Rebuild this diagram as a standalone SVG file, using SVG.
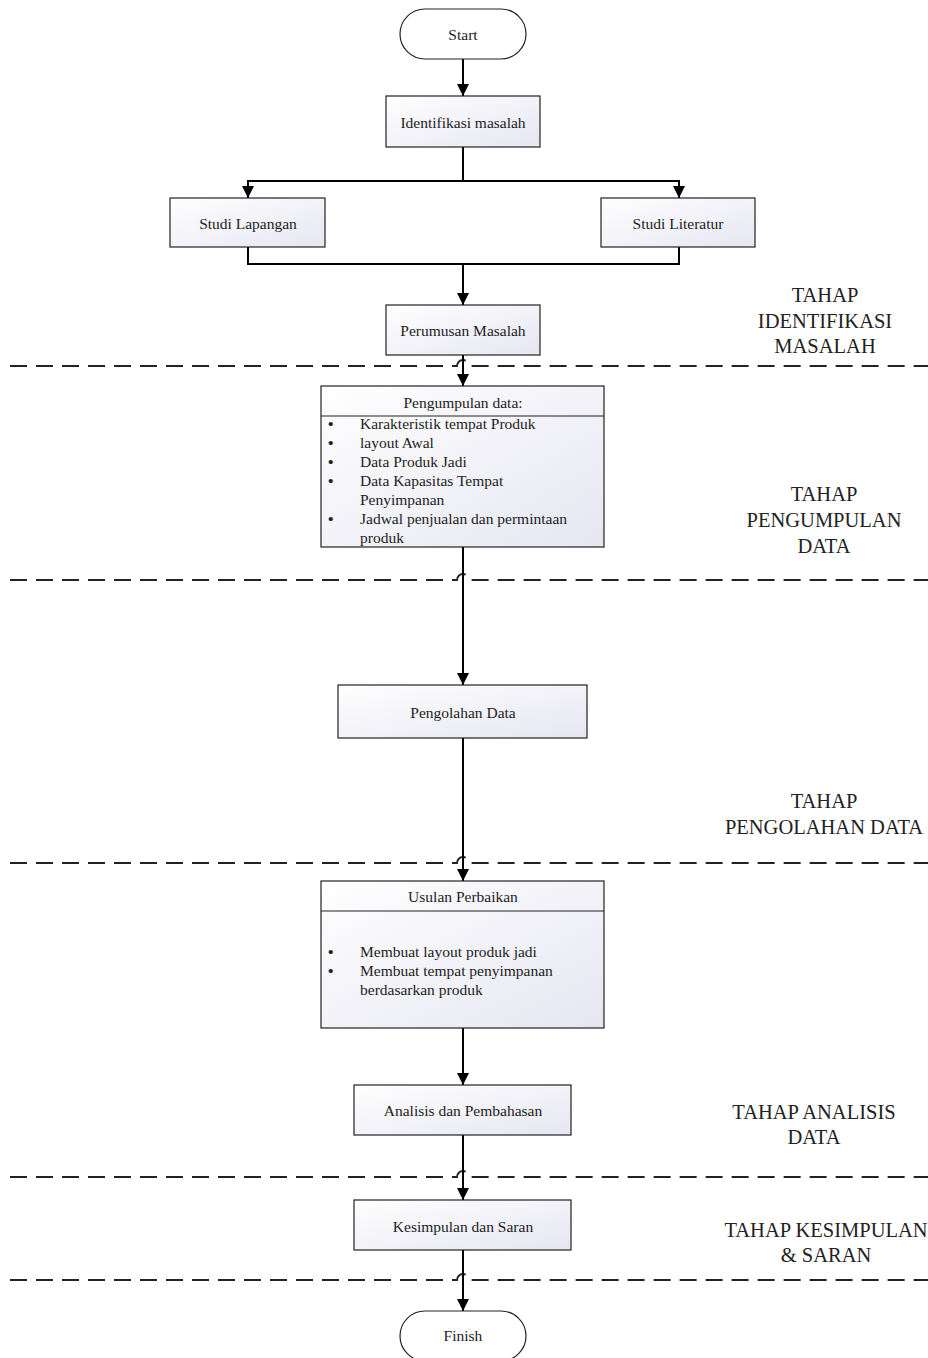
<svg xmlns="http://www.w3.org/2000/svg" width="928" height="1358" viewBox="0 0 928 1358">
<defs>
<linearGradient id="g" x1="0" y1="0" x2="1" y2="1">
<stop offset="0" stop-color="#ffffff"/>
<stop offset="1" stop-color="#e6e6f2"/>
</linearGradient>
<marker id="ah" viewBox="0 0 12 12" refX="12" refY="6" markerWidth="12" markerHeight="12" markerUnits="userSpaceOnUse" orient="auto">
<path d="M0,0 L12,6 L0,12 z" fill="#000"/>
</marker>
</defs>
<style>
.box{fill:url(#g);stroke:#222;stroke-width:1.2}
.term{fill:#fff;stroke:#222;stroke-width:1.2}
.t{font-family:"Liberation Serif",serif;font-size:15.5px;fill:#222;text-anchor:middle;dominant-baseline:central}
.l{font-family:"Liberation Serif",serif;font-size:15.5px;fill:#222;dominant-baseline:central}
.b{font-family:"Liberation Serif",serif;font-size:15.5px;font-weight:bold;fill:#222;dominant-baseline:central}
.lab{font-family:"Liberation Serif",serif;font-size:20.5px;fill:#222;text-anchor:middle;dominant-baseline:central}
.c{fill:none;stroke:#000;stroke-width:2}
.d{fill:none;stroke:#222;stroke-width:1.8;stroke-dasharray:17 9}
</style>
<rect width="928" height="1358" fill="#fff"/>
<g id="dividers">
<path class="d" d="M10 366 H457 A6 6 0 0 1 469 366 H928"/>
<path class="d" d="M10 580 H457 A6 6 0 0 1 469 580 H928"/>
<path class="d" d="M10 863 H457 A6 6 0 0 1 469 863 H928"/>
<path class="d" d="M10 1177 H457 A6 6 0 0 1 469 1177 H928"/>
<path class="d" d="M10 1280 H457 A6 6 0 0 1 469 1280 H928"/>
</g>
<g id="connectors">
<path class="c" d="M463 59 V96" marker-end="url(#ah)"/>
<path class="c" d="M463 147 V181 H248 V198" marker-end="url(#ah)"/>
<path class="c" d="M463 181 H679 V198" marker-end="url(#ah)"/>
<path class="c" d="M248 247 V264 H679 V247"/>
<path class="c" d="M463 264 V305" marker-end="url(#ah)"/>
<path class="c" d="M463 355 V386" marker-end="url(#ah)"/>
<path class="c" d="M463 547 V685" marker-end="url(#ah)"/>
<path class="c" d="M463 738 V881" marker-end="url(#ah)"/>
<path class="c" d="M463 1028 V1085" marker-end="url(#ah)"/>
<path class="c" d="M463 1135 V1200" marker-end="url(#ah)"/>
<path class="c" d="M463 1250 V1311" marker-end="url(#ah)"/>
</g>
<g id="start"><rect class="term" x="400" y="9" width="126" height="50" rx="25"/><text class="t" x="463" y="34">Start</text></g>
<g id="identifikasi"><rect class="box" x="386" y="96" width="154" height="51"/><text class="t" x="463" y="122">Identifikasi masalah</text></g>
<g id="studi-lapangan"><rect class="box" x="170" y="198" width="155" height="49"/><text class="t" x="248" y="223">Studi Lapangan</text></g>
<g id="studi-literatur"><rect class="box" x="601" y="198" width="154" height="49"/><text class="t" x="678" y="223">Studi Literatur</text></g>
<g id="perumusan"><rect class="box" x="386" y="305" width="154" height="50"/><text class="t" x="463" y="330">Perumusan Masalah</text></g>
<g id="pengumpulan">
<rect class="box" x="321" y="386" width="283" height="161"/>
<line x1="321" y1="416" x2="604" y2="416" stroke="#222" stroke-width="1.2"/>
<text class="t" x="463" y="402">Pengumpulan data:</text>
<text class="b" x="328" y="423">•</text><text class="l" x="360" y="423">Karakteristik tempat Produk</text>
<text class="b" x="328" y="442">•</text><text class="l" x="360" y="442">layout Awal</text>
<text class="b" x="328" y="461">•</text><text class="l" x="360" y="461">Data Produk Jadi</text>
<text class="b" x="328" y="480">•</text><text class="l" x="360" y="480">Data Kapasitas Tempat</text>
<text class="l" x="360" y="499">Penyimpanan</text>
<text class="b" x="328" y="518">•</text><text class="l" x="360" y="518">Jadwal penjualan dan permintaan</text>
<text class="l" x="360" y="537">produk</text>
</g>
<g id="pengolahan"><rect class="box" x="338" y="685" width="249" height="53"/><text class="t" x="463" y="712">Pengolahan Data</text></g>
<g id="usulan">
<rect class="box" x="321" y="881" width="283" height="147"/>
<line x1="321" y1="911" x2="604" y2="911" stroke="#222" stroke-width="1.2"/>
<text class="t" x="463" y="896">Usulan Perbaikan</text>
<text class="b" x="328" y="951">•</text><text class="l" x="360" y="951">Membuat layout produk jadi</text>
<text class="b" x="328" y="970">•</text><text class="l" x="360" y="970">Membuat tempat penyimpanan</text>
<text class="l" x="360" y="989">berdasarkan produk</text>
</g>
<g id="analisis"><rect class="box" x="354" y="1085" width="217" height="50"/><text class="t" x="463" y="1110">Analisis dan Pembahasan</text></g>
<g id="kesimpulan"><rect class="box" x="354" y="1200" width="217" height="50"/><text class="t" x="463" y="1226">Kesimpulan dan Saran</text></g>
<g id="finish"><rect class="term" x="400" y="1311" width="126" height="50" rx="25"/><text class="t" x="463" y="1335">Finish</text></g>
<g id="stage-labels">
<text class="lab" x="825" y="295">TAHAP</text>
<text class="lab" x="825" y="321">IDENTIFIKASI</text>
<text class="lab" x="825" y="346">MASALAH</text>
<text class="lab" x="824" y="494">TAHAP</text>
<text class="lab" x="824" y="520">PENGUMPULAN</text>
<text class="lab" x="824" y="546">DATA</text>
<text class="lab" x="824" y="801">TAHAP</text>
<text class="lab" x="824" y="827">PENGOLAHAN DATA</text>
<text class="lab" x="814" y="1112">TAHAP ANALISIS</text>
<text class="lab" x="814" y="1137">DATA</text>
<text class="lab" x="826" y="1230">TAHAP KESIMPULAN</text>
<text class="lab" x="826" y="1255">&amp; SARAN</text>
</g>
</svg>
